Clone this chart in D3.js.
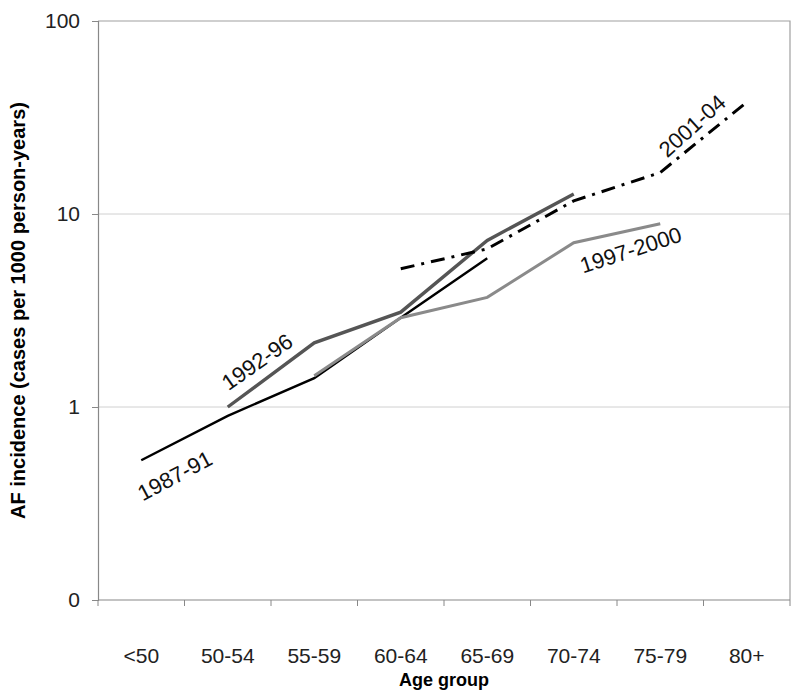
<html>
<head>
	<meta charset="utf-8">
	<style>
		body { margin: 0; background: #fff; }
		svg text { font-family: "Liberation Sans", Arial, Helvetica, sans-serif; }
	</style>
	<script src="https://cdnjs.cloudflare.com/ajax/libs/d3/7.8.5/d3.min.js"></script>
</head>
<body>
<svg id="chart" width="800" height="696"></svg>
<script>
// data
let ageGroups = ["<50", "50-54", "55-59", "60-64", "65-69", "70-74", "75-79", "80+"];
let yTicks = [0.1, 1, 10, 100];
let yTickLabels = ["0", "1", "10", "100"];

let s1987 = [0.53, 0.90, 1.41, 2.9, 5.9, null, null, null];
let s1992 = [null, 1.0, 2.15, 3.1, 7.3, 12.7, null, null];
let s1997 = [null, null, 1.45, 2.9, 3.7, 7.1, 8.9, null];
let s2001 = [null, null, null, 5.2, 6.6, 11.7, 16.4, 38];

let seriesNames = ["1987-91", "1992-96", "1997-2000", "2001-04"];

let plotLeft = 98, plotRight = 790, plotTop = 21, plotBottom = 600;

let svg = d3.select("#chart");

let x = d3.scaleBand().domain(ageGroups).range([plotLeft, plotRight]).paddingInner(0).paddingOuter(0);
let y = d3.scaleLog().domain([0.1, 100]).range([plotBottom, plotTop]);

// fractional category position -> pixel
let xf = f => plotLeft + f * x.bandwidth();

// gridlines
svg.append("g")
	.selectAll("line")
	.data([1, 10])
	.join("line")
	.attr("x1", plotLeft).attr("x2", plotRight)
	.attr("y1", d => y(d)).attr("y2", d => y(d))
	.attr("stroke", "#d0d0d0").attr("stroke-width", 1);

// frame top + right
svg.append("path")
	.attr("d", `M${plotLeft},${y(100)}H${plotRight}V${plotBottom}`)
	.attr("fill", "none").attr("stroke", "#a0a0a0").attr("stroke-width", 1.2);

// y axis
let yAxis = svg.append("g")
	.attr("transform", `translate(${plotLeft},0)`)
	.call(d3.axisLeft(y).tickValues(yTicks).tickSize(6).tickPadding(12)
		.tickFormat((d, i) => yTickLabels[i]));
yAxis.select(".domain").attr("stroke", "#888").attr("stroke-width", 1.2);
yAxis.selectAll(".tick line").attr("stroke", "#888");
yAxis.selectAll("text").attr("font-size", 21).attr("fill", "#222");

// x axis: ticks on the category boundaries
let xAxis = svg.append("g").attr("transform", `translate(0,${plotBottom})`);
xAxis.append("line")
	.attr("x1", plotLeft).attr("x2", plotRight)
	.attr("stroke", "#888").attr("stroke-width", 1.2);
xAxis.selectAll(".bt")
	.data(ageGroups.map(d => x(d)).concat([plotRight]))
	.join("line")
	.attr("class", "bt")
	.attr("x1", d => d).attr("x2", d => d)
	.attr("y1", 0).attr("y2", 6)
	.attr("stroke", "#888");
xAxis.selectAll("text")
	.data(ageGroups)
	.join("text")
	.attr("x", d => x(d) + x.bandwidth() / 2)
	.attr("y", 63)
	.attr("text-anchor", "middle")
	.attr("font-size", 21)
	.attr("fill", "#222")
	.text(d => d);

// axis titles
svg.append("text")
	.attr("x", (plotLeft + plotRight) / 2)
	.attr("y", 686)
	.attr("text-anchor", "middle")
	.attr("font-size", 18)
	.attr("font-weight", "bold")
	.text("Age group");

svg.append("text")
	.attr("transform", `translate(25,${(plotTop + plotBottom) / 2}) rotate(-90)`)
	.attr("text-anchor", "middle")
	.attr("font-size", 20)
	.attr("font-weight", "bold")
	.text("AF incidence (cases per 1000 person-years)");

// lines
let line = d3.line()
	.defined(d => d.v != null)
	.x(d => x(d.age) + x.bandwidth() / 2)
	.y(d => y(d.v));

let series = [
	{ name: seriesNames[0], values: s1987, color: "#000", width: 2.4, dash: null },
	{ name: seriesNames[1], values: s1992, color: "#555", width: 3.4, dash: null },
	{ name: seriesNames[2], values: s1997, color: "#8a8a8a", width: 3, dash: null },
	{ name: seriesNames[3], values: s2001, color: "#000", width: 3, dash: "14,7,3,7" }
];

svg.append("g")
	.selectAll("path")
	.data(series)
	.join("path")
	.attr("fill", "none")
	.attr("stroke", d => d.color)
	.attr("stroke-width", d => d.width)
	.attr("stroke-dasharray", d => d.dash)
	.attr("d", d => line(d.values.map((v, i) => ({ age: ageGroups[i], v: v }))));

// series labels, anchored in data space
let labelSpots = [
	{ f: 0.89, v: 0.44, angle: -28 },
	{ f: 1.84, v: 1.71, angle: -35 },
	{ f: 6.16, v: 6.5, angle: -18 },
	{ f: 6.87, v: 28.6, angle: -42 }
];

svg.append("g")
	.selectAll("text")
	.data(labelSpots)
	.join("text")
	.attr("transform", d => `translate(${xf(d.f)},${y(d.v)}) rotate(${d.angle})`)
	.attr("text-anchor", "middle")
	.attr("dominant-baseline", "central")
	.attr("font-size", 22)
	.attr("fill", "#111")
	.text((d, i) => seriesNames[i]);
</script>
</body>
</html>
